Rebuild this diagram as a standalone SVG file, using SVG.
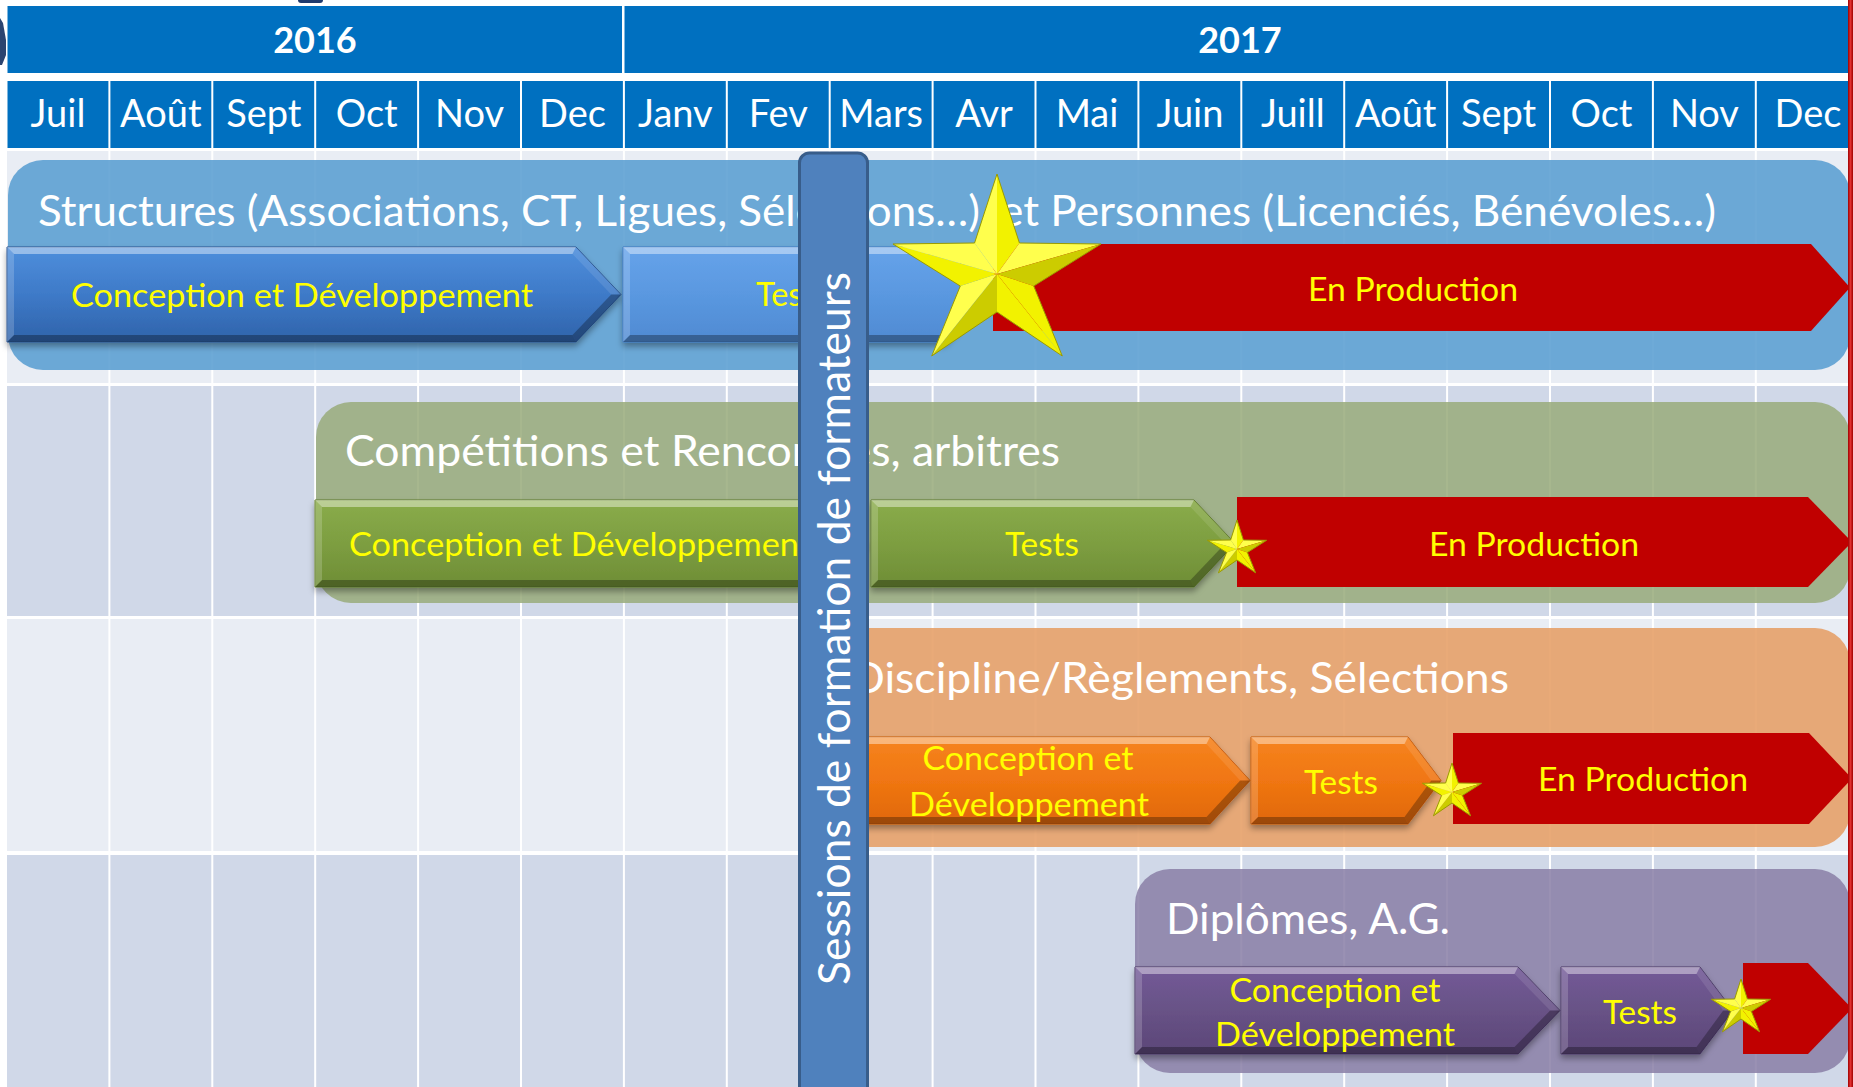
<svg xmlns="http://www.w3.org/2000/svg" width="1853" height="1087" viewBox="0 0 1853 1087">
<defs>
<style>
.yr{font-family:Lato,"Liberation Sans",sans-serif;font-weight:bold;font-size:36px;fill:#fff;text-anchor:middle}
.mo{font-family:Lato,"Liberation Sans",sans-serif;font-size:38px;fill:#fff;text-anchor:middle}
.ttl{font-family:Lato,"Liberation Sans",sans-serif;font-size:43px;fill:#fff}
.lbl{font-family:Lato,"Liberation Sans",sans-serif;font-size:32px;fill:#ffff00;text-anchor:middle}
.vt{font-family:Lato,"Liberation Sans",sans-serif;font-size:44px;fill:#fff}
.hdr{fill:#0070c0}
.rowL{fill:#e9edf4}
.rowD{fill:#d0d8e8}
.bt{fill:#fff;fill-opacity:.42}
.bl{fill:#fff;fill-opacity:.18}
.bu{fill:#fff;fill-opacity:.1}
.bd{fill:#000;fill-opacity:.28}
.bb{fill:#000;fill-opacity:.3}
.red{fill:#c00000}
.sB{fill:#ffff4d}.sM{fill:#f2f200}.sD{fill:#cccc00}
</style>
<linearGradient id="gBlue" x1="0" y1="0" x2="0" y2="1"><stop offset="0" stop-color="#4f8fdc"/><stop offset=".5" stop-color="#3e7ac8"/><stop offset="1" stop-color="#2f63aa"/></linearGradient>
<linearGradient id="gLBlue" x1="0" y1="0" x2="0" y2="1"><stop offset="0" stop-color="#66a3ea"/><stop offset=".5" stop-color="#5a98e0"/><stop offset="1" stop-color="#4f8ad2"/></linearGradient>
<linearGradient id="gGreen" x1="0" y1="0" x2="0" y2="1"><stop offset="0" stop-color="#8aac4a"/><stop offset=".5" stop-color="#7d9e41"/><stop offset="1" stop-color="#6e8d35"/></linearGradient>
<linearGradient id="gOrange" x1="0" y1="0" x2="0" y2="1"><stop offset="0" stop-color="#f6841e"/><stop offset=".5" stop-color="#f07612"/><stop offset="1" stop-color="#e0680a"/></linearGradient>
<linearGradient id="gPurple" x1="0" y1="0" x2="0" y2="1"><stop offset="0" stop-color="#735a98"/><stop offset=".5" stop-color="#685286"/><stop offset="1" stop-color="#5b4678"/></linearGradient>
<linearGradient id="gRedLine" x1="0" y1="0" x2="1" y2="0"><stop offset="0" stop-color="#a00000"/><stop offset=".5" stop-color="#e23030"/><stop offset="1" stop-color="#a00000"/></linearGradient>
<filter id="sh" x="-5%" y="-15%" width="110%" height="150%"><feDropShadow dx="0" dy="4" stdDeviation="3" flood-color="#000" flood-opacity=".35"/></filter>
<g id="star">
<polygon class="sM" points="0,0 0,-100 22,-31"/>
<polygon class="sB" points="0,0 22,-31 102,-30"/>
<polygon class="sD" points="0,0 102,-30 36,12"/>
<polygon class="sM" points="0,0 36,12 64,82"/>
<polygon class="sM" points="0,0 64,82 0,38"/>
<polygon class="sD" points="0,0 0,38 -64,82"/>
<polygon class="sB" points="0,0 -64,82 -36,12"/>
<polygon class="sM" points="0,0 -36,12 -102,-30"/>
<polygon class="sB" points="0,0 -102,-30 -22,-31"/>
<polygon class="sB" points="0,0 -22,-31 0,-100"/>
<polygon points="0,-100 22,-31 102,-30 36,12 64,82 0,38 -64,82 -36,12 -102,-30 -22,-31" fill="none" stroke="#9a9a00" stroke-width="1" vector-effect="non-scaling-stroke"/>
</g>
</defs>

<rect width="1853" height="1087" fill="#fff"/>

<g id="grid">
<rect class="rowL" x="7" y="151" width="1841" height="232"/>
<rect class="rowD" x="7" y="386" width="1841" height="230"/>
<rect class="rowL" x="7" y="619" width="1841" height="232"/>
<rect class="rowD" x="7" y="855" width="1841" height="232"/>
<path d="M109.4 151V1087M212.3 151V1087M315.2 151V1087M418.1 151V1087M521 151V1087M623.9 151V1087M726.8 151V1087M829.7 151V1087M932.6 151V1087M1035.5 151V1087M1138.4 151V1087M1241.3 151V1087M1344.2 151V1087M1447.1 151V1087M1550 151V1087M1652.9 151V1087M1755.8 151V1087" stroke="#fff" stroke-width="2"/>
</g>

<g id="edge-marks">
<polygon points="0,18 3,23 6,40 6,55 2,65 0,65" fill="#2b4470"/>
<rect x="298" y="-4" width="25" height="7" rx="3" fill="#1f3a6e"/>
</g>

<g id="header">
<rect class="hdr" x="7.5" y="6" width="614.5" height="67"/>
<rect class="hdr" x="624.5" y="6" width="1224" height="67"/>
<text class="yr" x="315" y="53">2016</text>
<text class="yr" x="1240" y="53">2017</text>
<g id="months">
<rect class="hdr" x="7.5" y="81" width="100.9" height="67"/>
<rect class="hdr" x="110.4" y="81" width="100.9" height="67"/>
<rect class="hdr" x="213.3" y="81" width="100.9" height="67"/>
<rect class="hdr" x="316.2" y="81" width="100.9" height="67"/>
<rect class="hdr" x="419.1" y="81" width="100.9" height="67"/>
<rect class="hdr" x="522" y="81" width="100.9" height="67"/>
<rect class="hdr" x="624.9" y="81" width="100.9" height="67"/>
<rect class="hdr" x="727.8" y="81" width="100.9" height="67"/>
<rect class="hdr" x="830.7" y="81" width="100.9" height="67"/>
<rect class="hdr" x="933.6" y="81" width="100.9" height="67"/>
<rect class="hdr" x="1036.5" y="81" width="100.9" height="67"/>
<rect class="hdr" x="1139.4" y="81" width="100.9" height="67"/>
<rect class="hdr" x="1242.3" y="81" width="100.9" height="67"/>
<rect class="hdr" x="1345.2" y="81" width="100.9" height="67"/>
<rect class="hdr" x="1448.1" y="81" width="100.9" height="67"/>
<rect class="hdr" x="1551" y="81" width="100.9" height="67"/>
<rect class="hdr" x="1653.9" y="81" width="100.9" height="67"/>
<rect class="hdr" x="1756.8" y="81" width="92" height="67"/>
<text class="mo" x="58" y="127">Juil</text>
<text class="mo" x="160.9" y="127">Août</text>
<text class="mo" x="263.8" y="127">Sept</text>
<text class="mo" x="366.7" y="127">Oct</text>
<text class="mo" x="469.6" y="127">Nov</text>
<text class="mo" x="572.5" y="127">Dec</text>
<text class="mo" x="675.4" y="127">Janv</text>
<text class="mo" x="778.3" y="127">Fev</text>
<text class="mo" x="881.2" y="127">Mars</text>
<text class="mo" x="984.1" y="127">Avr</text>
<text class="mo" x="1087" y="127">Mai</text>
<text class="mo" x="1189.9" y="127">Juin</text>
<text class="mo" x="1292.8" y="127">Juill</text>
<text class="mo" x="1395.7" y="127">Août</text>
<text class="mo" x="1498.6" y="127">Sept</text>
<text class="mo" x="1601.5" y="127">Oct</text>
<text class="mo" x="1704.4" y="127">Nov</text>
<text class="mo" x="1808" y="127">Dec</text>
</g>
</g>

<g id="lane-structures">
<rect x="8" y="160" width="1842" height="210" rx="35" fill="rgb(86,156,209)" fill-opacity=".86"/>
<text class="ttl" x="38" y="226" textLength="942" lengthAdjust="spacingAndGlyphs">Structures (Associations, CT, Ligues, Sélections…)</text>
<text class="ttl" x="1000" y="226" textLength="716" lengthAdjust="spacingAndGlyphs">et Personnes (Licenciés, Bénévoles…)</text>
</g>
<g id="lane-competitions">
<rect x="316" y="402" width="1534" height="201" rx="35" fill="rgb(152,171,124)" fill-opacity=".86"/>
<text class="ttl" x="345" y="466" textLength="715" lengthAdjust="spacingAndGlyphs">Compétitions et Rencontres, arbitres</text>
</g>
<g id="lane-discipline">
<rect x="823" y="628" width="1027" height="219" rx="35" fill="rgb(229,156,98)" fill-opacity=".86"/>
<text class="ttl" x="851" y="693" textLength="658" lengthAdjust="spacingAndGlyphs">Discipline/Règlements, Sélections</text>
</g>
<g id="lane-diplomes">
<rect x="1135" y="869" width="715" height="204" rx="35" fill="rgb(137,127,166)" fill-opacity=".86"/>
<text class="ttl" x="1166" y="934" textLength="284" lengthAdjust="spacingAndGlyphs">Diplômes, A.G.</text>
</g>

<g id="a1-conception">
<g filter="url(#sh)"><polygon points="7,247 576,247 621,294.5 576,342 7,342" fill="url(#gBlue)" stroke="#2a5490" stroke-width="1"/></g>
<polygon class="bt" points="7,247 576,247 572.5,254 14,254"/>
<polygon class="bu" points="576,247 621,294.5 611.2,294.5 572.5,254"/>
<polygon class="bd" points="621,294.5 576,342 572.5,335 611.2,294.5"/>
<polygon class="bb" points="576,342 7,342 14,335 572.5,335"/>
<polygon class="bl" points="7,342 7,247 14,254 14,335"/>
<text class="lbl" x="302" y="307" textLength="462" lengthAdjust="spacingAndGlyphs">Conception et Développement</text>
</g>
<g id="a2-tests">
<g filter="url(#sh)"><polygon points="623,247 945,247 990,294.5 945,342 623,342" fill="url(#gLBlue)" stroke="#3f78c0" stroke-width="1"/></g>
<polygon class="bt" points="623,247 945,247 941.5,254 630,254"/>
<polygon class="bu" points="945,247 990,294.5 980.2,294.5 941.5,254"/>
<polygon class="bd" points="990,294.5 945,342 941.5,335 980.2,294.5"/>
<polygon class="bb" points="945,342 623,342 630,335 941.5,335"/>
<polygon class="bl" points="623,342 623,247 630,254 630,335"/>
<text class="lbl" x="792" y="306" textLength="72" lengthAdjust="spacingAndGlyphs">Tests</text>
</g>
<g id="a3-production">
<polygon class="red" points="993,244 1811,244 1850,287.5 1811,331 993,331"/>
<text class="lbl" x="1413" y="301" textLength="210" lengthAdjust="spacingAndGlyphs">En Production</text>
</g>

<g id="b1-conception">
<g filter="url(#sh)"><polygon points="315,500 826,500 868,543.5 826,587 315,587" fill="url(#gGreen)" stroke="#5f7a2c" stroke-width="1"/></g>
<polygon class="bt" points="315,500 826,500 822.5,507 322,507"/>
<polygon class="bu" points="826,500 868,543.5 858.2,543.5 822.5,507"/>
<polygon class="bd" points="868,543.5 826,587 822.5,580 858.2,543.5"/>
<polygon class="bb" points="826,587 315,587 322,580 822.5,580"/>
<polygon class="bl" points="315,587 315,500 322,507 322,580"/>
<text class="lbl" x="580" y="556" textLength="462" lengthAdjust="spacingAndGlyphs">Conception et Développement</text>
</g>
<g id="b2-tests">
<g filter="url(#sh)"><polygon points="871,500 1194,500 1235,543.5 1194,587 871,587" fill="url(#gGreen)" stroke="#5f7a2c" stroke-width="1"/></g>
<polygon class="bt" points="871,500 1194,500 1190.5,507 878,507"/>
<polygon class="bu" points="1194,500 1235,543.5 1225.2,543.5 1190.5,507"/>
<polygon class="bd" points="1235,543.5 1194,587 1190.5,580 1225.2,543.5"/>
<polygon class="bb" points="1194,587 871,587 878,580 1190.5,580"/>
<polygon class="bl" points="871,587 871,500 878,507 878,580"/>
<text class="lbl" x="1042" y="556" textLength="74" lengthAdjust="spacingAndGlyphs">Tests</text>
</g>
<g id="b3-production">
<polygon class="red" points="1237,497 1808,497 1852,542 1808,587 1237,587"/>
<text class="lbl" x="1534" y="556" textLength="210" lengthAdjust="spacingAndGlyphs">En Production</text>
</g>

<g id="c1-conception">
<g filter="url(#sh)"><polygon points="823,737 1210,737 1250,780.5 1210,824 823,824" fill="url(#gOrange)" stroke="#c85a08" stroke-width="1"/></g>
<polygon class="bt" points="823,737 1210,737 1206.5,744 830,744"/>
<polygon class="bu" points="1210,737 1250,780.5 1240.2,780.5 1206.5,744"/>
<polygon class="bd" points="1250,780.5 1210,824 1206.5,817 1240.2,780.5"/>
<polygon class="bb" points="1210,824 823,824 830,817 1206.5,817"/>
<polygon class="bl" points="823,824 823,737 830,744 830,817"/>
<text class="lbl" x="1028" y="770" textLength="211" lengthAdjust="spacingAndGlyphs">Conception et</text>
<text class="lbl" x="1029" y="816" textLength="240" lengthAdjust="spacingAndGlyphs">Développement</text>
</g>
<g id="c2-tests">
<g filter="url(#sh)"><polygon points="1251,737 1408,737 1441,780.5 1408,824 1251,824" fill="url(#gOrange)" stroke="#c85a08" stroke-width="1"/></g>
<polygon class="bt" points="1251,737 1408,737 1404.5,744 1258,744"/>
<polygon class="bu" points="1408,737 1441,780.5 1431.2,780.5 1404.5,744"/>
<polygon class="bd" points="1441,780.5 1408,824 1404.5,817 1431.2,780.5"/>
<polygon class="bb" points="1408,824 1251,824 1258,817 1404.5,817"/>
<polygon class="bl" points="1251,824 1251,737 1258,744 1258,817"/>
<text class="lbl" x="1341" y="794" textLength="74" lengthAdjust="spacingAndGlyphs">Tests</text>
</g>
<g id="c3-production">
<polygon class="red" points="1453,733 1809,733 1852,778.5 1809,824 1453,824"/>
<text class="lbl" x="1643" y="791" textLength="210" lengthAdjust="spacingAndGlyphs">En Production</text>
</g>

<g id="d1-conception">
<g filter="url(#sh)"><polygon points="1135,967 1518,967 1560,1010.5 1518,1054 1135,1054" fill="url(#gPurple)" stroke="#4a3966" stroke-width="1"/></g>
<polygon class="bt" points="1135,967 1518,967 1514.5,974 1142,974"/>
<polygon class="bu" points="1518,967 1560,1010.5 1550.2,1010.5 1514.5,974"/>
<polygon class="bd" points="1560,1010.5 1518,1054 1514.5,1047 1550.2,1010.5"/>
<polygon class="bb" points="1518,1054 1135,1054 1142,1047 1514.5,1047"/>
<polygon class="bl" points="1135,1054 1135,967 1142,974 1142,1047"/>
<text class="lbl" x="1335" y="1002" textLength="211" lengthAdjust="spacingAndGlyphs">Conception et</text>
<text class="lbl" x="1335" y="1046" textLength="240" lengthAdjust="spacingAndGlyphs">Développement</text>
</g>
<g id="d2-tests">
<g filter="url(#sh)"><polygon points="1561,967 1700,967 1733,1010.5 1700,1054 1561,1054" fill="url(#gPurple)" stroke="#4a3966" stroke-width="1"/></g>
<polygon class="bt" points="1561,967 1700,967 1696.5,974 1568,974"/>
<polygon class="bu" points="1700,967 1733,1010.5 1723.2,1010.5 1696.5,974"/>
<polygon class="bd" points="1733,1010.5 1700,1054 1696.5,1047 1723.2,1010.5"/>
<polygon class="bb" points="1700,1054 1561,1054 1568,1047 1696.5,1047"/>
<polygon class="bl" points="1561,1054 1561,967 1568,974 1568,1047"/>
<text class="lbl" x="1640" y="1024" textLength="74" lengthAdjust="spacingAndGlyphs">Tests</text>
</g>
<g id="d3-production">
<polygon class="red" points="1743,963 1808,963 1852,1008.5 1808,1054 1743,1054"/>
</g>

<g id="milestones">
<use href="#star" transform="translate(997 274) scale(1.02 1)"/>
<use href="#star" transform="translate(1237 549) scale(.29)"/>
<use href="#star" transform="translate(1452 792) scale(.29)"/>
<use href="#star" transform="translate(1741 1008) scale(.29)"/>
</g>

<g id="sessions-formateurs">
<rect x="799.5" y="153" width="68" height="960" rx="10" fill="#4f81bd" stroke="#385d8a" stroke-width="3"/>
<text class="vt" transform="translate(850 985) rotate(-90)" textLength="713" lengthAdjust="spacingAndGlyphs">Sessions de formation de formateurs</text>
</g>

<g id="right-edge">
<rect x="1848" y="0" width="5" height="1087" fill="url(#gRedLine)"/>
</g>

<g id="connectors"/>
</svg>
